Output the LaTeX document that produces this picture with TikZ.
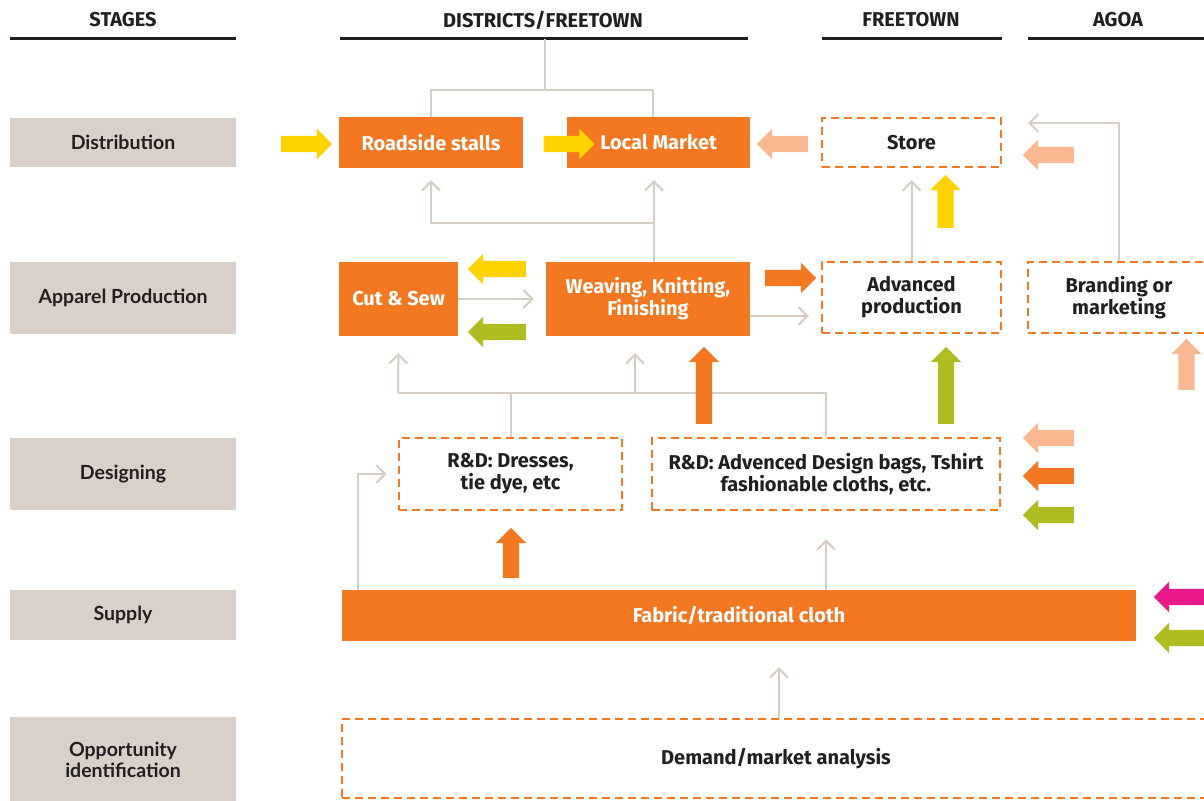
\documentclass[tikz,border=0pt]{standalone}
\usepackage{fontspec}
\setmainfont{Fira Sans}
\newfontfamily\stagefont{Lato}
\usetikzlibrary{arrows.meta,shapes.arrows}
\definecolor{stagegray}{HTML}{D9D0C9}
\definecolor{linegray}{HTML}{D6CDC5}
\definecolor{orng}{HTML}{F47721}
\definecolor{yllw}{HTML}{FFD200}
\definecolor{salmon}{HTML}{F9B891}
\definecolor{olive}{HTML}{AFBD22}
\definecolor{hotpink}{HTML}{E8198B}
\definecolor{ink}{HTML}{231F20}
\tikzset{
  stage/.style={fill=stagegray, minimum width=226pt, text=ink, inner sep=0pt, align=center,
    font=\stagefont\bfseries\fontsize{19.5}{21}\selectfont},
  solidbox/.style={fill=orng, text=white, inner sep=0pt, align=center,
    font=\bfseries\fontsize{20}{22}\selectfont},
  dashbox/.style={draw=orng, line width=2.5pt, dash pattern=on 8pt off 5pt, text=ink,
    inner sep=0pt, align=center, font=\bfseries\fontsize{20}{22}\selectfont},
  header/.style={text=ink, font=\bfseries\fontsize{20}{22}\selectfont},
  headline/.style={draw=ink, line width=3pt},
  conn/.style={draw=linegray, line width=2pt},
  flow/.style={conn, -{Straight Barb[length=9pt,width=18pt]}},
  fat/.style={single arrow, minimum height=51pt, minimum width=30pt, inner sep=8pt,
    single arrow head extend=7pt, single arrow head indent=0pt},
}
\begin{document}
\begin{tikzpicture}[x=1pt,y=-1pt]
	\useasboundingbox (0,0) rectangle (1204,800);
	% headers
	\node[header] (hStages) at (123,20) {STAGES};
	\node[header] (hDistricts) at (543,20) {DISTRICTS/FREETOWN};
	\node[header] (hFreetown) at (911,20) {FREETOWN};
	\node[header] (hAgoa) at (1118,20) {AGOA};
	\draw[headline] (10,39) -- (236,39);
	\draw[headline] (340,39) -- (748,39);
	\draw[headline] (822,39) -- (1002,39);
	\draw[headline] (1028,39) -- (1204,39);
	% stages
	\node[stage, minimum height=49pt] (stDist) at (123,142.5) {Distribution};
	\node[stage, minimum height=72pt] (stApp) at (123,298) {Apparel Production};
	\node[stage, minimum height=72pt] (stDes) at (123,474) {Designing};
	\node[stage, minimum height=50pt] (stSup) at (123,615) {Supply};
	\node[stage, minimum height=85pt] (stOpp) at (123,759.5) {Opportunity\\identification};
	% boxes
	\node[solidbox, minimum width=184pt, minimum height=51pt] (roadside) at (431,142.5) {Roadside stalls};
	\node[solidbox, minimum width=183pt, minimum height=51pt] (market) at (658.5,142.5) {Local Market};
	\node[dashbox, minimum width=179pt, minimum height=49pt] (store) at (911.5,142.5) {Store};
	\node[solidbox, minimum width=119pt, minimum height=74pt] (cutsew) at (398.5,299) {Cut \& Sew};
	\node[solidbox, minimum width=204pt, minimum height=74pt] (weave) at (648,299) {Weaving, Knitting,\\Finishing};
	\node[dashbox, minimum width=179pt, minimum height=71pt] (advprod) at (911.5,297.5) {Advanced\\production};
	\node[dashbox, minimum width=182pt, minimum height=71pt] (brand) at (1119,297.5) {Branding or\\marketing};
	\node[dashbox, minimum width=223pt, minimum height=72pt] (rdDress) at (510.5,474) {R\&D: Dresses,\\tie dye, etc};
	\node[dashbox, minimum width=348pt, minimum height=72pt] (rdAdv) at (826,474) {R\&D: Advenced Design bags, Tshirt\\fashionable cloths, etc.};
	\node[solidbox, minimum width=794pt, minimum height=51pt] (fabric) at (739,615.5) {Fabric/traditional cloth};
	\node[dashbox, minimum width=868pt, minimum height=79pt] (demand) at (776,758.5) {Demand/market analysis};
	% thin connectors
	\coordinate (hDistLine) at (545,39);
	\coordinate (jTop) at (545,90);
	\draw[conn] (hDistLine) -- (jTop);
	\draw[conn] (roadside.north) |- (jTop) -| ([xshift=-5.5pt]market.north);
	\coordinate (jWeave) at (654,223);
	\draw[conn] ([xshift=6pt]weave.north) -- (jWeave);
	\draw[flow] (jWeave) -- ([xshift=-4.5pt,yshift=-12pt]market.south);
	\draw[flow] (jWeave) -| ([yshift=-12pt]roadside.south);
	\draw[flow, shorten >=12pt] (cutsew.east) -- (cutsew.east -| weave.west);
	\coordinate (wOut) at ([yshift=-17pt]weave.east);
	\draw[flow, shorten >=12pt] (wOut) -- (wOut -| advprod.west);
	\draw[flow, shorten >=12pt] (advprod.north) -- (store.south);
	\coordinate (bEnd) at (1028,123);
	\draw[flow] (brand.north) |- (bEnd);
	\coordinate (jDesL) at (398,393);
	\coordinate (jDesM) at (635,393);
	\draw[conn] (rdDress.north) -- (rdDress.north |- jDesL);
	\draw[conn] (rdAdv.north) |- (jDesL);
	\draw[flow, shorten >=17pt] (jDesL) -- (cutsew.south);
	\draw[flow, shorten >=17pt] (jDesM) -- (jDesM |- weave.south);
	\coordinate (fL) at ([xshift=16pt]fabric.north west);
	\draw[flow, shorten >=11pt] (fL) |- (rdDress.west);
	\draw[flow, shorten >=28pt] (fabric.north -| rdAdv.south) -- (rdAdv.south);
	\coordinate (dTop) at ([xshift=3pt]demand.north);
	\draw[flow, shorten >=26pt] (dTop) -- (dTop |- fabric.south);
	% fat arrows
	\node[fat, fill=yllw] (yRoad) at (302.5,144) {};
	\node[fat, fill=yllw] (yMarket) at (565,144) {};
	\node[fat, fill=yllw, shape border rotate=180, minimum height=58pt] (yCut) at (501,269) {};
	\node[fat, fill=yllw, shape border rotate=90, minimum height=53pt] (yStore) at (945.5,205.5) {};
	\node[fat, fill=olive, shape border rotate=180, minimum height=58pt] (gCut) at (501,332) {};
	\node[fat, fill=olive, shape border rotate=90, minimum height=77pt] (gAdv) at (946,389.5) {};
	\node[fat, fill=olive, shape border rotate=180] (gDes) at (1052.5,515) {};
	\node[fat, fill=olive, shape border rotate=180] (gSup) at (1183.5,638) {};
	\node[fat, fill=orng] (oAdv) at (786.5,278) {};
	\node[fat, fill=orng, shape border rotate=90, minimum height=77pt] (oWeave) at (704,389.5) {};
	\node[fat, fill=orng, shape border rotate=180] (oDes) at (1052.5,476) {};
	\node[fat, fill=orng, shape border rotate=90, minimum height=50pt] (oDress) at (511,557) {};
	\node[fat, fill=salmon, shape border rotate=180] (sMarket) at (786.5,144) {};
	\node[fat, fill=salmon, shape border rotate=180] (sStore) at (1052.5,155) {};
	\node[fat, fill=salmon, shape border rotate=90] (sBrand) at (1186.5,368.5) {};
	\node[fat, fill=salmon, shape border rotate=180] (sDes) at (1052.5,438) {};
	\node[fat, fill=hotpink, shape border rotate=180] (pSup) at (1183.5,597) {};
\end{tikzpicture}
\end{document}
